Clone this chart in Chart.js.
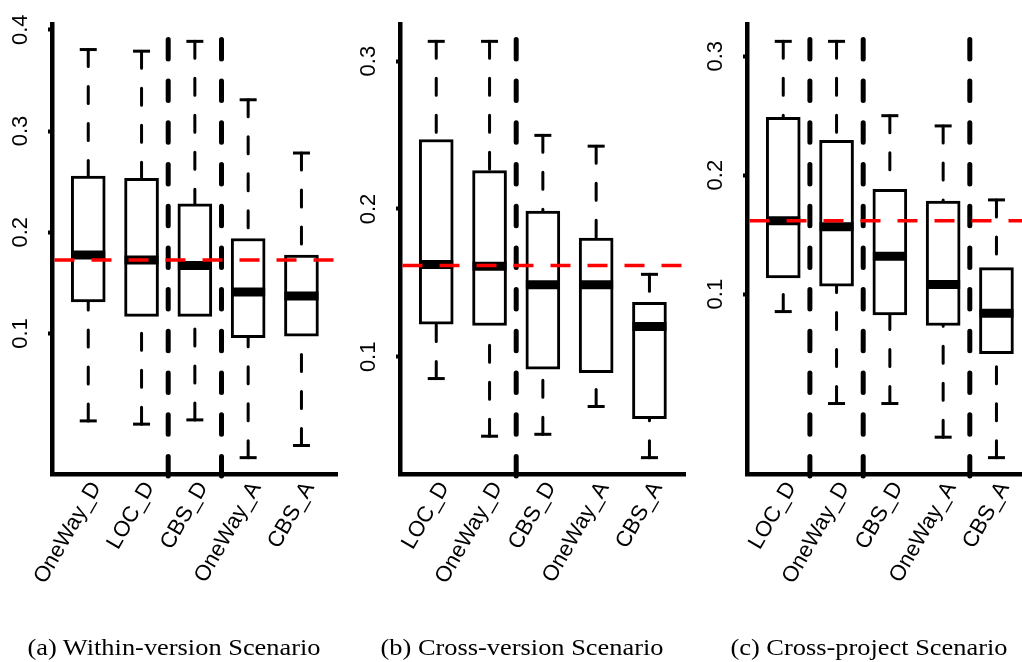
<!DOCTYPE html>
<html>
<head>
<meta charset="utf-8">
<script src="https://cdn.jsdelivr.net/npm/chart.js@4.4.1/dist/chart.umd.min.js"></script>
<style>
  html, body { margin: 0; padding: 0; background: #fff; width: 1022px; height: 662px; overflow: hidden; }
  .panel { position: absolute; top: 0; width: 348px; height: 662px; }
  .caption { position: absolute; top: 633px; width: 348px; line-height: 28px; text-align: center;
             font-family: "Liberation Serif", serif; font-size: 24px; color: #000; white-space: nowrap;
             transform: scaleX(1.1); transform-origin: 50% 50%; }
</style>
</head>
<body>
<div class="panel" style="left:0px"><canvas id="panelA" width="348" height="662"></canvas></div>
<div class="panel" style="left:348px"><canvas id="panelB" width="348" height="662"></canvas></div>
<div class="panel" style="left:695px"><canvas id="panelC" width="348" height="662"></canvas></div>
<div class="caption" style="left:0px">(a) Within-version Scenario</div>
<div class="caption" style="left:348px">(b) Cross-version Scenario</div>
<div class="caption" style="left:695px">(c) Cross-project Scenario</div>
<script>
// ---- (a) Within-version ----
const catsA   = ['OneWay_D', 'LOC_D', 'CBS_D', 'OneWay_A', 'CBS_A'];
const hiA     = [0.3805, 0.3789, 0.3886, 0.3309, 0.2783];
const q3A     = [0.2555, 0.2533, 0.2280, 0.1939, 0.1776];
const medA    = [0.1776, 0.1727, 0.1673, 0.1410, 0.1371];
const q1A     = [0.1313, 0.1169, 0.1169, 0.0958, 0.0975];
const loA     = [0.0137, 0.0105, 0.0147, -0.0226, -0.0106];
const refA    = 0.1727;
const groupBreaksA = [2.5, 3.5];
const yTicksA = [0.1, 0.2, 0.3, 0.4];

// ---- (b) Cross-version ----
const catsB   = ['LOC_D', 'OneWay_D', 'CBS_D', 'OneWay_A', 'CBS_A'];
const hiB     = [0.3134, 0.3134, 0.2498, 0.2425, 0.1558];
const q3B     = [0.2470, 0.2260, 0.1986, 0.1803, 0.1368];
const medB    = [0.1625, 0.1613, 0.1488, 0.1488, 0.1205];
const q1B     = [0.1221, 0.1212, 0.0916, 0.0893, 0.0581];
const loB     = [0.0853, 0.0463, 0.0476, 0.0664, 0.0318];
const refB    = 0.1618;
const groupBreaksB = [2.5];
const yTicksB = [0.1, 0.2, 0.3];

// ---- (c) Cross-project ----
const catsC   = ['LOC_D', 'OneWay_D', 'CBS_D', 'OneWay_A', 'CBS_A'];
const hiC     = [0.3125, 0.3125, 0.2500, 0.2414, 0.1792];
const q3C     = [0.2486, 0.2292, 0.1880, 0.1783, 0.1222];
const medC    = [0.1617, 0.1567, 0.1319, 0.1080, 0.0839];
const q1C     = [0.1136, 0.1067, 0.0825, 0.0736, 0.0500];
const loC     = [0.0853, 0.0080, 0.0080, -0.0203, -0.0375];
const refC    = 0.1617;
const groupBreaksC = [1.5, 2.5, 4.5];
const yTicksC = [0.1, 0.2, 0.3];

const BOX_W = 34;
const CAP_HALF = 8.5;

// whiskers, caps, medians, Scott-Knott group separators and the reference line
function boxPartsPlugin(d) {
  return {
    id: 'boxParts',
    beforeDatasetsDraw(chart) {
      const { ctx, scales: { x, y } } = chart;
      ctx.save();
      ctx.strokeStyle = '#000';
      d.hi.forEach((_, i) => {
        const px = x.getPixelForValue(i + 1);
        [[d.hi[i], d.q3[i]], [d.lo[i], d.q1[i]]].forEach(([end, edge]) => {
          const ye = y.getPixelForValue(end);
          const yb = y.getPixelForValue(edge);
          ctx.lineWidth = 3;
          ctx.lineCap = 'round';
          ctx.setLineDash([17, 20]);
          ctx.beginPath(); ctx.moveTo(px, ye); ctx.lineTo(px, yb); ctx.stroke();
          ctx.setLineDash([]);
          ctx.lineCap = 'butt';
          ctx.beginPath(); ctx.moveTo(px - CAP_HALF, ye); ctx.lineTo(px + CAP_HALF, ye); ctx.stroke();
        });
      });
      ctx.restore();
    },
    afterDatasetsDraw(chart) {
      const { ctx, chartArea, scales: { x, y } } = chart;
      ctx.save();
      // medians
      ctx.strokeStyle = '#000';
      ctx.lineWidth = 9;
      ctx.lineCap = 'butt';
      d.med.forEach((m, i) => {
        const px = x.getPixelForValue(i + 1);
        const py = y.getPixelForValue(m);
        ctx.beginPath(); ctx.moveTo(px - BOX_W / 2, py); ctx.lineTo(px + BOX_W / 2, py); ctx.stroke();
      });
      // group separators
      ctx.lineWidth = 5;
      ctx.lineCap = 'round';
      ctx.setLineDash([19.5, 22.2]);
      ctx.lineDashOffset = 27;
      d.breaks.forEach(b => {
        const px = x.getPixelForValue(b);
        ctx.beginPath(); ctx.moveTo(px, chartArea.top); ctx.lineTo(px, chartArea.bottom + 2); ctx.stroke();
      });
      // reference line
      ctx.strokeStyle = '#ff0000';
      ctx.lineWidth = 3.5;
      ctx.lineCap = 'butt';
      ctx.setLineDash([20, 17]);
      ctx.lineDashOffset = 0;
      const ry = y.getPixelForValue(d.ref);
      ctx.beginPath(); ctx.moveTo(chartArea.left + 2.5, ry); ctx.lineTo(chartArea.right, ry); ctx.stroke();
      ctx.restore();
    }
  };
}

function makePanel(id, cats, lo, q1, med, q3, hi, ref, breaks, yTicks) {
  const dataMin = Math.min(...lo), dataMax = Math.max(...hi);
  const pad = 0.04 * (dataMax - dataMin);
  return new Chart(document.getElementById(id), {
    type: 'bar',
    data: {
      datasets: [{
        data: cats.map((c, i) => ({ x: i + 1, y: [q1[i], q3[i]] })),
        backgroundColor: '#fff',
        borderColor: '#000',
        borderWidth: 3,
        borderSkipped: false,
        barThickness: BOX_W
      }]
    },
    options: {
      responsive: false,
      animation: false,
      devicePixelRatio: 1,
      layout: { padding: { top: 19.5, right: 10.3, left: 0, bottom: 0 } },
      plugins: { legend: { display: false }, tooltip: { enabled: false } },
      scales: {
        x: {
          type: 'linear', min: 0.32, max: 5.68, offset: false,
          afterBuildTicks: s => { s.ticks = cats.map((c, i) => ({ value: i + 1 })); },
          afterFit: s => { s.height = 662 - 474.3; },
          grid: { display: false, drawTicks: false },
          border: { display: true, width: 4.5, color: '#000' },
          ticks: {
            autoSkip: false, minRotation: 60, maxRotation: 60, padding: 3, labelOffset: 8,
            color: '#000', font: { family: 'Liberation Sans', size: 22 },
            callback: v => cats[Math.round(v) - 1]
          }
        },
        y: {
          type: 'linear', min: dataMin - pad, max: dataMax + pad,
          afterBuildTicks: s => { s.ticks = yTicks.map(v => ({ value: v })); },
          afterFit: s => { s.width = 52; },
          grid: { display: true, drawOnChartArea: false, drawTicks: true, tickLength: 4, tickWidth: 4, tickColor: '#000' },
          border: { display: true, width: 4.5, color: '#000' },
          ticks: {
            minRotation: 90, maxRotation: 90, crossAlign: 'center', padding: 11.5,
            color: '#000', font: { family: 'Liberation Sans', size: 22 },
            callback: v => v.toFixed(1)
          }
        }
      }
    },
    plugins: [boxPartsPlugin({ lo, q1, med, q3, hi, ref, breaks })]
  });
}

makePanel('panelA', catsA, loA, q1A, medA, q3A, hiA, refA, groupBreaksA, yTicksA);
makePanel('panelB', catsB, loB, q1B, medB, q3B, hiB, refB, groupBreaksB, yTicksB);
makePanel('panelC', catsC, loC, q1C, medC, q3C, hiC, refC, groupBreaksC, yTicksC);
</script>
</body>
</html>
